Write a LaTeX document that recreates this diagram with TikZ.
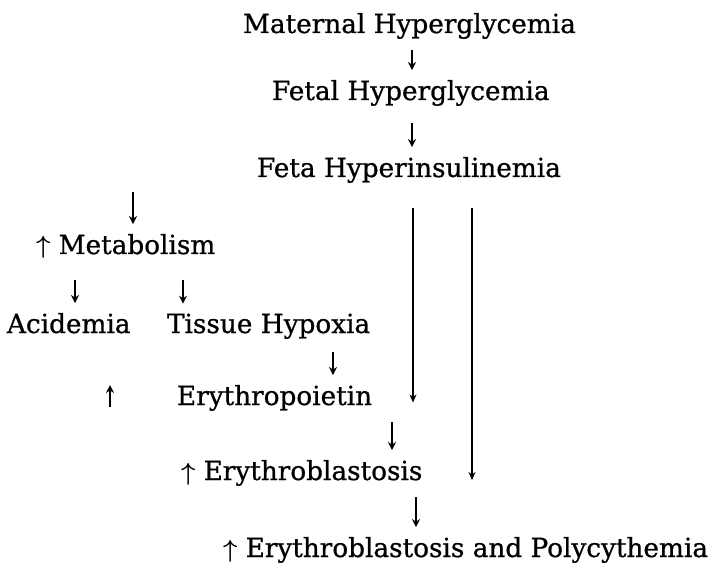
\documentclass[tikz,border=0pt]{standalone}
\usepackage{fontspec}
\setmainfont{DejaVu Serif}[FakeBold=0.8]
\usetikzlibrary{arrows.meta}

\begin{document}
\begin{tikzpicture}[x=1pt, y=-1pt, >=Stealth]
  \tikzstyle{lbl}=[inner sep=0pt, outer sep=0pt, anchor=base west, font=\fontsize{26.3}{31}\selectfont]
  \tikzstyle{arr}=[line width=1.9pt, -{Stealth[length=8pt, width=8pt]}, shorten >=10pt]
  \tikzstyle{longarr}=[line width=1.2pt, -{Stealth[length=8pt, width=7pt]}]
  \useasboundingbox (0,0) rectangle (720,564);

  % ------- nodes -------
  \node[lbl] (mat)  at (243,33)  {Maternal Hyperglycemia};
  \node[lbl] (fet)  at (272,100) {Fetal Hyperglycemia};
  \node[lbl] (ins)  at (257,177) {Feta Hyperinsulinemia};
  \node[lbl] (met)  at (36,254)  {{\boldmath$\uparrow$} Metabolism};
  \node[lbl] (acid) at (7,333)   {Acidemia};
  \node[lbl] (hyp)  at (167,333) {Tissue Hypoxia};
  \node[lbl] (epo)  at (177,405) {Erythropoietin};
  \node[lbl] (eb)   at (181,480) {{\boldmath$\uparrow$} Erythroblastosis};
  \node[lbl] (poly) at (223,557) {{\boldmath$\uparrow$} Erythroblastosis and Polycythemia};

  % arrow starts
  \coordinate (d1) at (412,50);
  \coordinate (d2) at (412,123);
  \coordinate (d3) at (133,192);
  \coordinate (d4) at (75,280);
  \coordinate (d5) at (183,280);
  \coordinate (d6) at (333,352);
  \coordinate (d7) at (392,422);
  \coordinate (d8) at (416,497);
  \coordinate (up) at (110,407);
  \coordinate (l1) at (413,208);
  \coordinate (l2) at (472,208);

  % ------- arrows -------
  \draw[arr] (d1) -- (d1 |- fet.north);
  \draw[arr] (d2) -- (d2 |- ins.north);
  \draw[arr] (d3) -- (d3 |- met.north);
  \draw[arr] (d4) -- (d4 |- acid.north);
  \draw[arr] (d5) -- (d5 |- hyp.north);
  \draw[arr] (d6) -- (d6 |- epo.north);
  \draw[arr] (d7) -- (d7 |- eb.north);
  \draw[arr] (d8) -- (d8 |- poly.north);
  \draw[arr, shorten >=0pt] (up) -- (up |- epo.north);

  % long arrows from hyperinsulinemia
  \draw[longarr] (l1) -- (l1 |- epo.mid);
  \draw[longarr] (l2) -- (l2 |- eb.base);
\end{tikzpicture}
\end{document}
